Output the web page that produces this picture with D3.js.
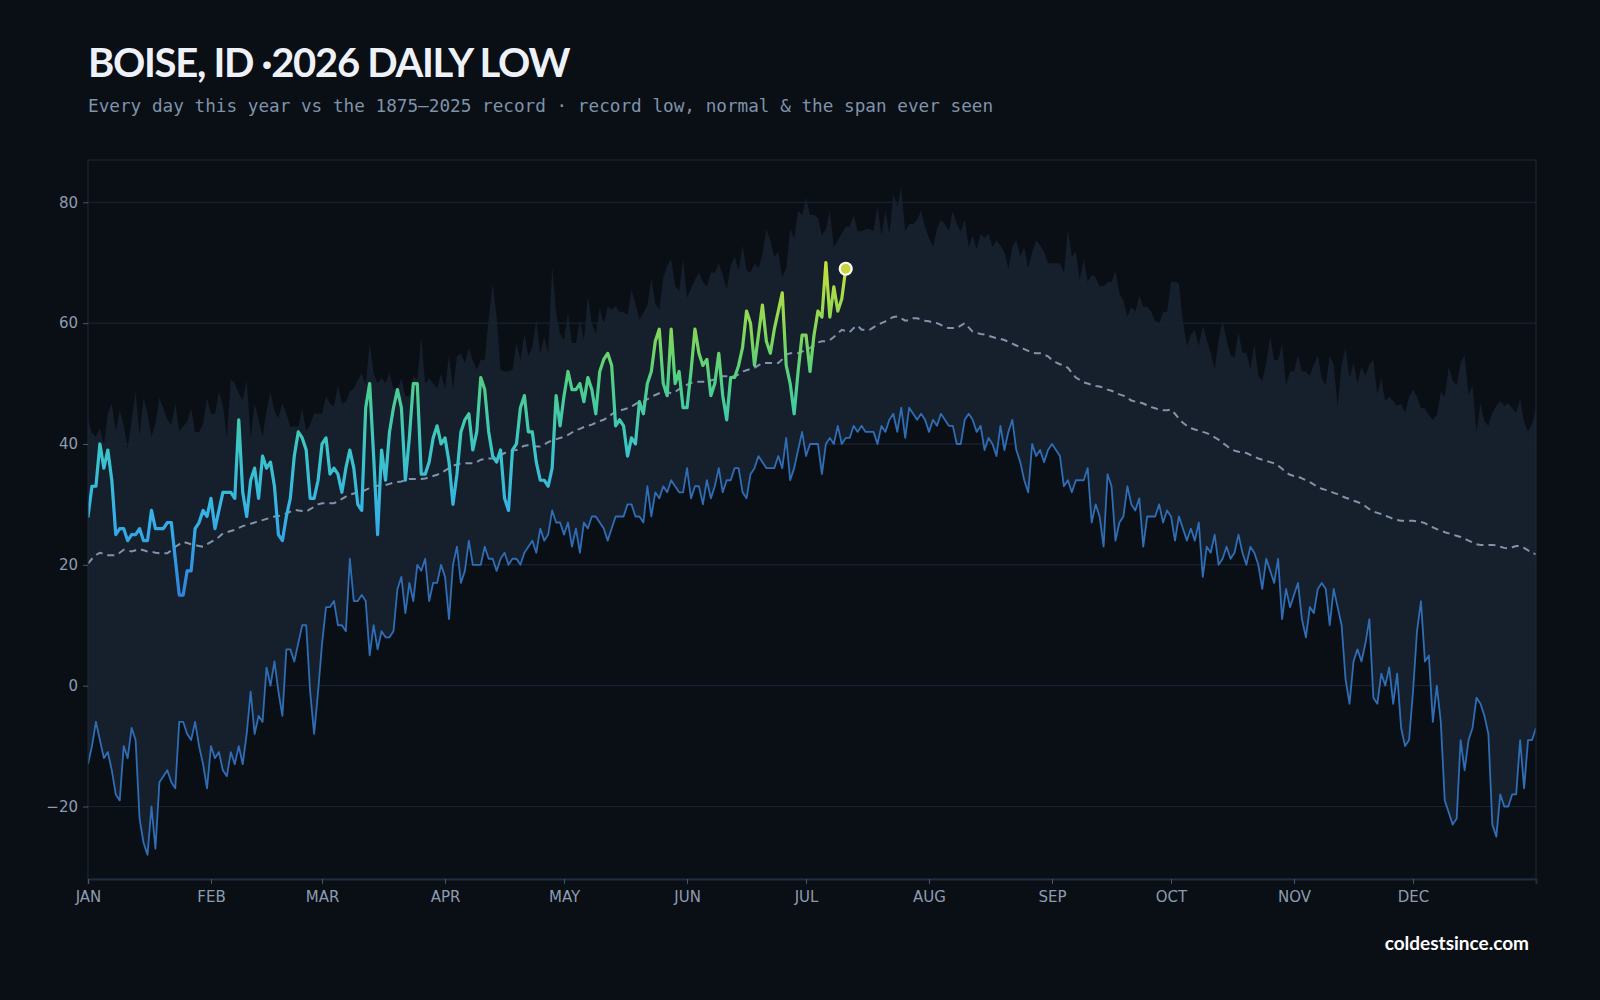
<!DOCTYPE html>
<html><head><meta charset="utf-8">
<script src="https://cdn.jsdelivr.net/npm/d3@7"></script>
<style>
html,body{margin:0;padding:0;background:#0a0e15;}
svg{display:block;}
</style></head><body>
<svg id="chart" width="1600" height="1000"></svg>
<script>
// ---------- DATA ----------
const monthLabels = ["JAN","FEB","MAR","APR","MAY","JUN","JUL","AUG","SEP","OCT","NOV","DEC"];
const monthStartDays = [0,31,59,90,120,151,181,212,243,273,304,334];
const yTickValues = [-20,0,20,40,60,80];

// 2026 daily lows (Jan 1 .. Jul 11)
const lows2026 = [
 28,33,33,40,36,39,34,25,26,26,
 24,25,25,26,24,24,29,26,26,26,
 27,27,21,15,15,19,19,26,27,29,
 28,31,26,29,32,32,32,31,44,32,
 28,34,36,31,38,36,37,33,25,24,
 28,31,38,42,41,39,31,31,34,40,
 41,35,36,35,32,36,39,36,30,29,
 46,50,38,25,39,34,42,46,49,46,
 34,41,50,50,35,35,37,41,43,40,
 41,37,30,35,42,44,45,39,42,51,
 49,42,38,37,39,31,29,39,40,46,
 48,42,42,37,34,34,33,36,48,43,
 48,52,49,49,50,47,51,49,45,52,
 54,55,53,43,44,43,38,41,40,47,
 45,50,52,57,59,50,48,59,50,52,
 46,46,52,59,55,53,54,48,50,55,
 48,44,51,51,53,56,62,60,53,58,
 63,57,55,59,62,65,53,50,45,52,
 58,58,52,58,62,61,70,61,66,62,
 64,69
];

// Record low of the daily low, 1875-2025
const recordLow = [
 -13,-10,-6,-9,-12,-11,-14,-18,-19,-10,
 -12,-7,-9,-22,-26,-28,-20,-27,-16,-15,
 -14,-16,-17,-6,-6,-8,-9,-6,-10,-13,
 -17,-10,-12,-11,-14,-15,-11,-13,-10,-13,
 -8,-1,-8,-5,-6,3,0,4,-1,-5,
 6,6,4,7,10,10,-1,-8,-1,7,
 13,13,14,10,10,9,21,14,14,15,
 14,5,10,6,9,8,8,9,16,18,
 12,17,14,20,19,21,14,17,17,20,
 18,11,20,23,17,19,24,20,20,20,
 23,21,21,19,21,22,20,21,21,20,
 22,23,24,22,26,24,25,29,27,27,
 25,27,23,26,22,27,26,28,28,27,
 26,24,26,28,28,28,30,30,28,28,
 27,33,28,32,31,33,32,34,33,32,
 32,36,31,33,33,30,34,31,33,36,
 32,34,34,36,36,32,31,35,36,38,
 37,36,36,36,38,36,41,34,36,39,
 42,38,40,40,40,35,40,41,40,43,
 40,41,41,43,42,43,42,42,42,40,
 43,42,44,45,42,46,41,46,45,44,
 45,44,42,44,43,45,44,43,43,40,
 40,44,45,44,42,43,39,41,40,38,
 43,39,42,44,39,37,34,32,40,38,
 39,37,39,40,39,38,33,34,32,34,
 34,34,36,27,30,28,23,35,33,24,
 27,28,33,30,29,31,23,28,28,28,
 30,27,29,28,24,28,26,24,26,24,
 27,18,23,22,25,20,21,23,21,22,
 25,22,20,23,22,20,16,21,19,17,
 21,11,16,13,15,17,11,8,13,12,
 16,17,16,10,16,13,10,1,-3,4,
 6,4,7,11,-2,-3,2,0,3,-3,
 2,-7,-10,-9,-1,9,14,4,5,-6,
 0,-6,-19,-21,-23,-22,-9,-14,-9,-7,
 -2,-3,-5,-8,-23,-25,-18,-20,-20,-18,
 -18,-9,-17,-9,-9,-7
];

// Record high of the daily low, 1875-2025
const recordHigh = [
 44,41.8,41.2,42.6,39.8,45.1,46.7,42.1,45.6,43.2,
 39.3,44,48.7,41.5,47.6,45.1,41.2,43.4,47.6,45.9,
 44,43.2,46.7,42.1,42.9,43.7,45.9,42,42,43.4,
 47.6,45,45,48.7,46.5,41.2,50.7,50,48.4,47.3,
 50.6,41.2,46.7,44,41.2,45.6,48.7,45.4,44.3,46.7,
 45.1,42.9,42.9,42.9,45.9,42.1,43.2,45.1,45,45,
 47.9,46.7,46.2,49.8,46.7,47,48.7,49.2,50.6,51.7,
 49.8,56.7,51.7,50,50.9,50,51.7,49.2,49,50.9,
 47.9,48,51.2,50.6,57.8,50,50.9,50,49.2,51.7,
 49.2,54.8,49.2,54.5,55,53.4,55.9,53.9,52.3,53.9,
 53.9,60.8,66.6,61.1,52.3,52,52,52.3,56.7,53.9,
 58.3,54.5,56.1,60.6,55,57.8,55,69.4,61.7,58.3,
 57.2,61.7,56.7,56.7,60.6,57.2,64.7,60,58.3,62.5,
 60,62.8,62.2,62.8,61.9,61.9,61.4,65.5,63.3,60.6,
 61.7,63,67.5,63.3,62.2,67.5,69.5,70.6,66.1,65.3,
 70.6,64.2,65.7,67.2,68.4,66.8,66.1,68.4,68.4,69.9,
 68,65.7,69.5,71,68.7,72.9,68.7,68.4,69.9,69.1,
 71.4,75.6,73.7,71,71.8,67.6,69.1,75.6,74.1,78.6,
 77.9,80.8,77.9,77.9,77.5,74.5,75.6,78.6,72.6,73.7,
 74.8,76,76,77.9,75.2,75.2,75.6,75.6,75.2,79.4,
 74.5,78.6,74.8,81.3,79.4,82.4,75.2,76.4,76.4,77.1,
 78.6,76,74.1,72.6,75.6,77.1,76.4,75.2,78.6,76.4,
 75.2,77.1,72.6,74.5,72.2,74.8,74.1,74.8,72.6,73.7,
 72.9,71.8,69.1,72.6,73.7,71,72.6,69.1,71.8,73.7,
 72.9,71.8,69.9,69.9,69.9,69.9,68.4,75.6,71,71.8,
 67.2,70.6,66.8,68,67.6,66.1,66.1,66.8,66.8,68.7,
 64.9,63.8,61.1,62.7,61.9,64.6,62.7,62.7,61.9,60.4,
 60,61.9,61.9,66.8,66.8,66.5,60.4,56.2,58.1,58.9,
 56.2,59.6,57.3,55.1,52.4,57.3,60.4,57.3,54.7,54.3,
 58.5,55.1,55.1,52.4,56.6,51.3,50.5,53.5,57.7,53.9,
 53.9,56.6,49.7,52,52,54.7,52,52,51.3,53.2,
 54.7,50.9,49.7,54.7,53.2,46.3,53.2,55.8,50.9,53.5,
 50.1,52.8,51.3,53.2,53.9,48.2,50.9,47.1,47.8,47.1,
 46.3,46.7,45.2,47.8,49,47.8,45.9,45.9,44.8,44,
 44.8,48.6,47.8,52.8,50.5,49.7,53.5,54.7,48.2,49.7,
 42.1,46.7,43.7,43,45.2,46.3,47.1,46.3,46.8,45.9,
 45.2,47.5,43.7,42.1,43.3,45.9
];

// Normal daily low
const normalLow = [
 20.2,21.0,21.6,22.0,21.8,21.6,21.6,21.6,22.0,22.5,
 22.4,22.2,22.4,22.6,22.4,22.2,22.2,22.0,21.9,21.9,
 21.9,22.4,23.0,23.4,23.8,23.6,23.4,23.3,23.1,23.0,
 23.4,23.8,24.1,24.6,25.2,25.4,25.6,25.8,26.1,26.4,
 26.6,26.8,27.0,27.2,27.4,27.6,27.8,28.0,28.1,28.2,
 28.5,28.8,29.1,29.0,28.9,28.8,29.2,29.6,30.0,30.2,
 30.2,30.2,30.2,30.5,30.9,31.3,31.6,31.8,32.0,32.1,
 32.4,32.7,33.0,33.1,33.2,33.2,33.4,33.6,33.7,33.8,
 34.0,34.2,34.2,34.2,34.2,34.3,34.5,34.7,34.9,35.2,
 35.6,36.0,36.4,36.6,36.8,36.8,36.8,36.8,37.0,37.4,
 37.5,37.6,37.6,37.7,38.1,38.5,38.7,38.9,39.0,39.4,
 39.7,39.8,39.7,39.6,39.6,39.9,40.3,40.6,40.8,41.0,
 41.2,41.5,41.9,42.3,42.5,42.8,43.0,43.2,43.5,43.8,
 44.0,44.4,44.9,45.4,45.6,45.7,45.9,46.2,46.6,47.0,
 47.0,47.4,47.8,48.1,48.4,48.7,48.6,48.4,48.6,49.1,
 49.5,49.8,50.1,50.3,50.3,50.3,50.3,50.5,50.7,50.9,
 51.2,51.2,51.2,51.2,51.5,52.0,52.2,52.4,52.6,53.0,
 53.4,53.4,53.4,53.4,53.4,54.0,54.8,55.0,55.0,55.0,
 55.3,55.6,55.9,56.3,56.8,57.0,57.0,57.2,57.7,58.3,
 58.9,58.7,58.5,59.2,59.6,58.9,58.9,58.9,59.3,59.7,
 60.0,60.3,60.7,61.0,61.1,60.8,60.4,60.5,60.8,60.8,
 60.6,60.4,60.3,60.1,60.0,59.7,59.3,59.2,59.2,59.2,
 59.6,60.0,59.3,58.6,58.4,58.2,58.1,57.9,57.7,57.5,
 57.4,57.2,56.9,56.6,56.3,56.0,55.7,55.4,55.1,55.0,
 55.0,54.8,54.5,53.9,53.5,53.2,53.0,52.6,51.8,51.0,
 50.6,50.2,50.0,49.8,49.6,49.5,49.3,49.0,48.8,48.5,
 48.2,48.0,47.6,47.2,47.0,46.9,46.7,46.4,46.1,45.9,
 45.7,45.6,45.6,45.7,45.0,44.2,43.5,43.0,42.6,42.4,
 42.2,42.0,41.8,41.5,41.1,40.7,40.2,39.7,39.2,38.9,
 38.7,38.6,38.5,38.2,37.9,37.6,37.4,37.2,37.0,36.8,
 36.4,35.9,35.3,34.9,34.7,34.6,34.3,34.0,33.7,33.3,
 32.8,32.6,32.4,32.2,31.9,31.7,31.4,31.1,30.9,30.6,
 30.4,30.1,29.7,29.2,28.8,28.6,28.4,28.1,27.9,27.6,
 27.4,27.3,27.3,27.3,27.3,27.2,27.1,26.9,26.5,26.2,
 25.9,25.7,25.4,25.2,25.0,24.8,24.6,24.3,24.0,23.7,
 23.4,23.3,23.3,23.3,23.3,23.2,23.0,22.8,22.7,22.9,
 23.1,23.1,22.8,22.4,21.9,21.8
];

const titleText = "BOISE, ID ·2026 DAILY LOW";
const subtitleText = "Every day this year vs the 1875–2025 record · record low, normal & the span ever seen";
const footerText = "coldestsince.com";

// ---------- CHART ----------
const W = 1600, H = 1000;
const plot = {left: 88, right: 1536, top: 160, bottom: 879};
const svg = d3.select("#chart");

svg.append("rect").attr("width", W).attr("height", H).attr("fill", "#0a0e15");

const x = d3.scaleLinear().domain([0, 365]).range([plot.left, plot.right]);
const y = d3.scaleLinear().domain([-32, 87]).range([plot.bottom, plot.top]);

const defs = svg.append("defs");
defs.append("clipPath").attr("id", "plotClip")
  .append("rect").attr("x", plot.left).attr("y", plot.top)
  .attr("width", plot.right - plot.left).attr("height", plot.bottom - plot.top);

// colour ramp for the 2026 line, by temperature
const grad = defs.append("linearGradient").attr("id", "tempGrad")
  .attr("gradientUnits", "userSpaceOnUse")
  .attr("x1", 0).attr("x2", 0).attr("y1", y(15)).attr("y2", y(70));
[[0, "#2f84e0"], [0.24, "#35b2e6"], [0.45, "#3cc6c6"], [0.64, "#4dcf88"], [0.78, "#7ed65c"], [1, "#c9df3c"]]
  .forEach(([o, c]) => grad.append("stop").attr("offset", o).attr("stop-color", c));

// grid
svg.append("g").selectAll("line").data(yTickValues).join("line")
  .attr("x1", plot.left).attr("x2", plot.right)
  .attr("y1", d => y(d)).attr("y2", d => y(d))
  .attr("stroke", "#172232").attr("stroke-width", 1);

const g = svg.append("g").attr("clip-path", "url(#plotClip)");

// span ever seen
g.append("path").datum(recordLow.map((v, i) => [i, v, recordHigh[i]]))
  .attr("fill", "#161f2c")
  .attr("d", d3.area().x(d => x(d[0])).y0(d => y(d[1])).y1(d => y(d[2])));

// grid visible through band
g.append("g").selectAll("line").data(yTickValues).join("line")
  .attr("x1", plot.left).attr("x2", plot.right)
  .attr("y1", d => y(d)).attr("y2", d => y(d))
  .attr("stroke", "#1c2838").attr("stroke-opacity", 0.55).attr("stroke-width", 1);

// record low line
g.append("path").datum(recordLow)
  .attr("fill", "none").attr("stroke", "#2f6db5").attr("stroke-width", 1.8)
  .attr("stroke-linejoin", "round")
  .attr("d", d3.line().x((d, i) => x(i)).y(d => y(d)));

// normal
g.append("path").datum(normalLow)
  .attr("fill", "none").attr("stroke", "#8194ac").attr("stroke-width", 2)
  .attr("stroke-dasharray", "7,5")
  .attr("d", d3.line().x((d, i) => x(i)).y(d => y(d)));

// 2026
g.append("path").datum(lows2026)
  .attr("fill", "none").attr("stroke", "url(#tempGrad)").attr("stroke-width", 3.2)
  .attr("stroke-linejoin", "round").attr("stroke-linecap", "round")
  .attr("d", d3.line().x((d, i) => x(i)).y(d => y(d)));

const lastI = lows2026.length - 1;
svg.append("circle")
  .attr("cx", x(lastI)).attr("cy", y(lows2026[lastI])).attr("r", 6)
  .attr("fill", "#c9d53f").attr("stroke", "#ffffff").attr("stroke-width", 2.2);

// frame
svg.append("rect")
  .attr("x", plot.left).attr("y", plot.top)
  .attr("width", plot.right - plot.left).attr("height", plot.bottom - plot.top)
  .attr("fill", "none").attr("stroke", "#1c2838").attr("stroke-width", 1);

// axes
const yAxis = svg.append("g").attr("transform", `translate(${plot.left},0)`)
  .call(d3.axisLeft(y).tickValues(yTickValues).tickSize(5).tickPadding(5));
yAxis.select(".domain").remove();
yAxis.selectAll(".tick line").attr("stroke", "#4a5668");
yAxis.selectAll("text").attr("fill", "#8c9cb1")
  .style("font-family", "'DejaVu Sans', sans-serif").style("font-size", "15px");

const xAxis = svg.append("g").attr("transform", `translate(0,${plot.bottom})`)
  .call(d3.axisBottom(x).tickValues(monthStartDays).tickFormat((d, i) => monthLabels[i]).tickSize(5).tickPadding(7));
xAxis.select(".domain").attr("stroke", "#1f2c3c").attr("stroke-width", 2);
xAxis.selectAll(".tick line").attr("stroke", "#4a5668");
xAxis.selectAll("text").attr("fill", "#8c9cb1")
  .style("font-family", "'DejaVu Sans', sans-serif").style("font-size", "15px");

// titles
svg.append("text").attr("x", 88).attr("y", 77)
  .attr("fill", "#eef2f8")
  .style("font-family", "Lato, 'Noto Sans', sans-serif").style("font-weight", 700)
  .style("font-size", "40px").style("letter-spacing", "-1.3px")
  .text(titleText);

svg.append("text").attr("x", 88).attr("y", 112)
  .attr("fill", "#7f93a9")
  .style("font-family", "'DejaVu Sans Mono', monospace")
  .style("font-size", "17.7px")
  .text(subtitleText);

svg.append("text").attr("x", 1529).attr("y", 950).attr("text-anchor", "end")
  .attr("fill", "#ffffff")
  .style("font-family", "Lato, 'Noto Sans', sans-serif").style("font-weight", 700)
  .style("font-size", "19px")
  .text(footerText);
</script>
</body></html>
